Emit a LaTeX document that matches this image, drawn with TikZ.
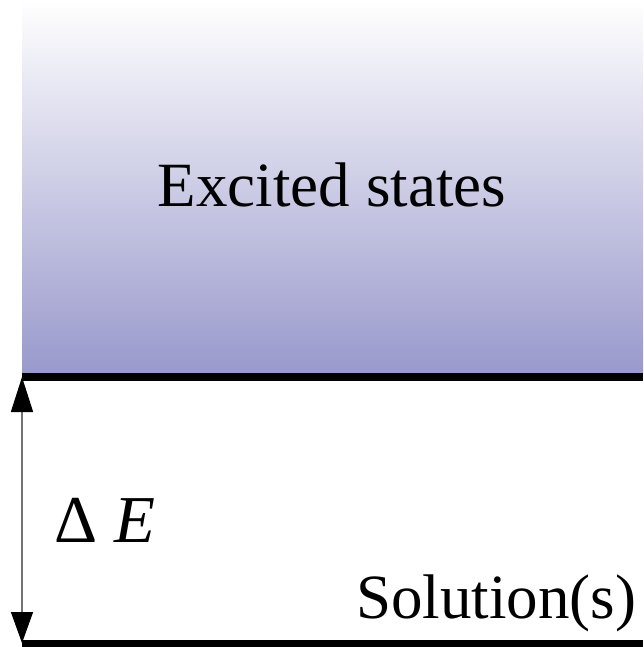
\documentclass[tikz,border=0pt]{standalone}
\usepackage{fontspec}
\setmainfont{Liberation Serif}
\usetikzlibrary{arrows.meta}
\definecolor{excitedBottom}{RGB}{153,153,204}
\begin{document}
\begin{tikzpicture}
% Energy gap sketch
\def\unitsz{1pt}
\providecommand{\levelLineColor}{black}
\providecommand{\levelLineWidth}{8pt}
\providecommand{\gapLineColor}{black!55}
\providecommand{\gapLineWidth}{1.5pt}
\begin{scope}[x=\unitsz, y=-\unitsz, font=\fontsize{63}{70}\selectfont]
  \useasboundingbox (0,0) rectangle (643,647);
  % Shaded band of excited states
  \shade[top color=white, bottom color=excitedBottom] (22,0) rectangle (643,373);
  % Level lines
  \begin{scope}[draw=\levelLineColor, line width=\levelLineWidth]
    \draw (22,377) -- (643,377);
    \draw (22,644) -- (643,644);
  \end{scope}
  % Labels
  \node[anchor=base, inner sep=0pt] (excited) at (332,206) {Excited states};
  \node[anchor=base west, inner sep=0pt] (solution) at (356,618) {Solution(s)};
  \node[anchor=base west, inner sep=0pt, font=\fontsize{67}{72}\selectfont] (gap) at (54,542) {Δ \textit{E}};
  % Gap arrow
  \coordinate (gapTop) at (22,377);
  \coordinate (gapBottom) at (22,643);
  \draw[draw=\gapLineColor, line width=\gapLineWidth,
        {Triangle[length=35pt, width=22pt, color=black]}-{Triangle[length=31pt, width=22pt, color=black]}]
    (gapTop) -- (gapBottom);
\end{scope}
\end{tikzpicture}
\end{document}
